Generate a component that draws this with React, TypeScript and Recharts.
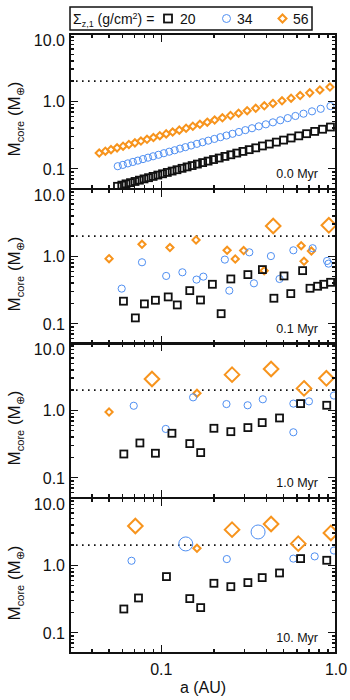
import React from 'react';
import { ScatterChart, Scatter, XAxis, YAxis, ReferenceLine } from 'recharts';

type Pt = [number, number];

// axis ticks and labels
const xTicks = [0.04, 0.05, 0.06, 0.07, 0.08, 0.09, 0.1, 0.2, 0.3, 0.4, 0.5, 0.6, 0.7, 0.8, 0.9, 1.0];
const yTicks = [0.05, 0.06, 0.07, 0.08, 0.09, 0.1, 0.2, 0.3, 0.4, 0.5, 0.6, 0.7, 0.8, 0.9, 1, 2, 3, 4, 5, 6, 7, 8, 9, 10];
const xDomain: [number, number] = [0.03, 1];
const yDomain: [number, number] = [0.05, 10];
const panelLabels = ['0.0 Myr', '0.1 Myr', '1.0 Myr', '10. Myr'];
const legendValues = ['20', '34', '56'];
const massLimit = 2.0;

// 0.0 Myr : [a (AU), Mcore (Mearth)]
const sq0: Pt[] = [
  [0.0561, 0.0548], [0.0594, 0.0571], [0.0628, 0.0596], [0.0666, 0.0621], [0.0707, 0.0647], [0.0749, 0.0676],
  [0.0796, 0.0706], [0.0845, 0.0736], [0.0897, 0.0769], [0.0955, 0.0805], [0.1016, 0.0841], [0.1082, 0.0881],
  [0.1153, 0.0923], [0.1229, 0.0966], [0.1314, 0.1014], [0.1404, 0.1064], [0.1501, 0.1114], [0.1609, 0.1172],
  [0.1724, 0.1233], [0.1852, 0.1297], [0.199, 0.1368], [0.2144, 0.1442], [0.2313, 0.1524], [0.2499, 0.1611],
  [0.2703, 0.1706], [0.2932, 0.1807], [0.3184, 0.1919], [0.3471, 0.2042], [0.379, 0.2178], [0.4149, 0.2323],
  [0.4554, 0.2483], [0.5012, 0.2661], [0.5532, 0.2858], [0.612, 0.3076], [0.6788, 0.3311], [0.7551, 0.3581],
  [0.8378, 0.3855], [0.9294, 0.4159],
];
const ci0: Pt[] = [
  [0.0563, 0.109], [0.0602, 0.114], [0.0643, 0.12], [0.0687, 0.126], [0.0734, 0.132], [0.0785, 0.139],
  [0.0839, 0.146], [0.0897, 0.153], [0.0963, 0.161], [0.1034, 0.17], [0.111, 0.179], [0.1192, 0.188],
  [0.1279, 0.199], [0.1373, 0.209], [0.1481, 0.221], [0.1598, 0.234], [0.1721, 0.247], [0.1857, 0.261],
  [0.2012, 0.277], [0.2179, 0.294], [0.236, 0.311], [0.2555, 0.33], [0.278, 0.351], [0.3026, 0.374],
  [0.3304, 0.399], [0.3613, 0.426], [0.3966, 0.456], [0.4353, 0.488], [0.4797, 0.524], [0.5294, 0.564],
  [0.5856, 0.607], [0.6514, 0.656], [0.7287, 0.711], [0.8172, 0.775], [0.9294, 0.851],
];
const di0: Pt[] = [
  [0.0441, 0.171], [0.0478, 0.182], [0.0515, 0.192], [0.0558, 0.204], [0.0604, 0.216], [0.0652, 0.229],
  [0.0706, 0.242], [0.0764, 0.257], [0.0828, 0.273], [0.0901, 0.29], [0.098, 0.309], [0.1066, 0.329],
  [0.1161, 0.35], [0.1267, 0.374], [0.1386, 0.399], [0.1515, 0.427], [0.1663, 0.457], [0.1832, 0.491],
  [0.202, 0.528], [0.2237, 0.569], [0.2489, 0.617], [0.2769, 0.667], [0.31, 0.726], [0.3471, 0.789],
  [0.3887, 0.858], [0.4353, 0.933], [0.4908, 1.019], [0.5532, 1.114], [0.6234, 1.218], [0.7074, 1.337],
  [0.8083, 1.476], [0.9232, 1.629],
];

// 0.1 Myr
const sq1: Pt[] = [
  [0.0607, 0.216], [0.071, 0.122], [0.08, 0.197], [0.0925, 0.223], [0.1095, 0.25], [0.1234, 0.19],
  [0.1455, 0.31], [0.1676, 0.225], [0.196, 0.385], [0.22, 0.141], [0.25, 0.462], [0.313, 0.536],
  [0.379, 0.636], [0.441, 0.239], [0.504, 0.512], [0.551, 0.28], [0.644, 0.614], [0.71, 0.336],
  [0.785, 0.36], [0.851, 0.385], [0.931, 0.412],
];
const ci1: Pt[] = [
  [0.0593, 0.332], [0.0775, 0.817], [0.1066, 0.512], [0.132, 0.58], [0.159, 0.452], [0.174, 0.5],
  [0.231, 0.895], [0.245, 0.31], [0.319, 1.148], [0.339, 0.398], [0.424, 1.01], [0.475, 0.462],
  [0.57, 1.23], [0.735, 1.32], [0.889, 0.855], [0.906, 0.78],
];
const di1: Pt[] = [
  [0.0502, 0.925], [0.0775, 1.51], [0.112, 1.35], [0.158, 1.75], [0.238, 1.23], [0.265, 0.914],
  [0.296, 1.22], [0.388, 0.614], [0.437, 2.82], [0.632, 1.44], [0.656, 0.845], [0.723, 1.2], [0.91, 2.89],
];

// 1.0 Myr
const sq2: Pt[] = [
  [0.061, 0.225], [0.0754, 0.328], [0.0925, 0.231], [0.115, 0.457], [0.1455, 0.321], [0.168, 0.236],
  [0.2, 0.542], [0.25, 0.483], [0.313, 0.555], [0.378, 0.658], [0.475, 0.771], [0.627, 1.26], [0.885, 1.19],
];
const ci2: Pt[] = [
  [0.0695, 1.17], [0.106, 0.53], [0.152, 1.56], [0.236, 1.24], [0.312, 1.19], [0.381, 1.46],
  [0.57, 1.26], [0.57, 0.473], [0.7, 1.36], [0.973, 1.66],
];
const di2: Pt[] = [
  [0.0502, 0.946], [0.0884, 2.92], [0.16, 1.79], [0.254, 3.39], [0.425, 4.11], [0.656, 2.12], [0.881, 2.99],
];

// 10 Myr
const sq3: Pt[] = [
  [0.061, 0.225], [0.074, 0.328], [0.107, 0.681], [0.1455, 0.321], [0.168, 0.236], [0.2, 0.542],
  [0.25, 0.483], [0.313, 0.555], [0.378, 0.658], [0.475, 0.771], [0.627, 1.26], [0.885, 1.19],
];
const ci3: Pt[] = [
  [0.0675, 1.17], [0.138, 2.08], [0.237, 1.24], [0.358, 3.13], [0.57, 1.26], [0.755, 1.36], [0.973, 1.66],
];
const di3: Pt[] = [
  [0.071, 3.84], [0.16, 1.79], [0.254, 3.39], [0.425, 4.11], [0.608, 2.1], [0.935, 3.03],
];

const panels = [
  { sq: sq0, ci: ci0, di: di0 },
  { sq: sq1, ci: ci1, di: di1 },
  { sq: sq2, ci: ci2, di: di2 },
  { sq: sq3, ci: ci3, di: di3 },
];

const FONT = '"Liberation Sans", Arial, Helvetica, sans-serif';
const ORANGE = '#f7941d';
const BLUE = '#4f8ff2';
const INK = '#111111';

const PLOT_L = 70;
const PLOT_W = 266;
const PLOT_H = 155;
const M_TOP = 10;
const AX_H = 50;
const TM = 10;
const PANEL_TOP = [34, 189, 343, 498];

const isMajor = (v: number) => Math.abs(Math.log10(v) - Math.round(Math.log10(v))) < 1e-6;
const toObj = (pts: Pt[]) => pts.map(([a, m]) => ({ a, m }));

// log position inside the frame, for the inward tick marks of the box
const fracX = (v: number) => (Math.log10(v) - Math.log10(xDomain[0])) / (Math.log10(xDomain[1]) - Math.log10(xDomain[0]));
const fracY = (v: number) => (Math.log10(v) - Math.log10(yDomain[0])) / (Math.log10(yDomain[1]) - Math.log10(yDomain[0]));

const XLabel = (props: any) => {
  const { x, y, payload, showLabel } = props;
  const v = payload.value;
  if (!showLabel || !isMajor(v)) return <g />;
  return (
    <text x={x} y={y - TM + 22} textAnchor="middle" fontSize={16} fontFamily={FONT} fill={INK}>
      {v >= 1 ? '1.0' : '0.1'}
    </text>
  );
};

const YLabel = (props: any) => {
  const { x, y, payload } = props;
  const v = payload.value;
  if (!isMajor(v)) return <g />;
  return (
    <text x={x + TM - 5} y={y + (v >= 10 ? 12 : 6)} textAnchor="end" fontSize={16} fontFamily={FONT} fill={INK}>
      {v >= 10 ? '10.0' : v >= 1 ? '1.0' : '0.1'}
    </text>
  );
};

const SquareShape = (props: any) => {
  const { cx, cy } = props;
  const s = 3.5;
  return <rect x={cx - s} y={cy - s} width={2 * s} height={2 * s} fill="none" stroke={INK} strokeWidth={1.8} />;
};

const CircleShape = (props: any) => {
  const { cx, cy, payload } = props;
  const r = payload && payload.m > massLimit ? 7 : 3.6;
  return <circle cx={cx} cy={cy} r={r} fill="none" stroke={BLUE} strokeWidth={1} />;
};

const DiamondShape = (props: any) => {
  const { cx, cy, payload } = props;
  const h = payload && payload.m > massLimit ? 7.3 : 3.6;
  const d = `M${cx},${cy - h} L${cx + h},${cy} L${cx},${cy + h} L${cx - h},${cy} Z`;
  return <path d={d} fill="none" stroke={ORANGE} strokeWidth={2} />;
};

const Panel = ({ index }: { index: number }) => {
  const p = panels[index];
  const last = index === panels.length - 1;
  return (
    <div style={{ position: 'absolute', left: 0, top: PANEL_TOP[index] - M_TOP, zIndex: 1 }}>
      <ScatterChart
        id={`panel-${index}`}
        width={350}
        height={M_TOP + PLOT_H + AX_H}
        margin={{ top: M_TOP, right: 350 - PLOT_L - PLOT_W, bottom: 0, left: 0 }}
      >
        <XAxis
          type="number"
          scale="log"
          dataKey="a"
          domain={xDomain}
          allowDataOverflow
          ticks={xTicks}
          interval={0}
          tickSize={0}
          tickMargin={TM}
          tickLine={false}
          axisLine={false}
          height={AX_H}
          tick={(tp: any) => <XLabel {...tp} showLabel={last} />}
        />
        <YAxis
          type="number"
          scale="log"
          dataKey="m"
          domain={yDomain}
          allowDataOverflow
          ticks={yTicks}
          interval={0}
          tickSize={0}
          tickMargin={TM}
          tickLine={false}
          axisLine={false}
          width={PLOT_L}
          tick={(tp: any) => <YLabel {...tp} />}
        />
        <ReferenceLine y={massLimit} stroke={INK} strokeWidth={1.6} strokeDasharray="1.6 4.4" />
        <Scatter data={toObj(p.di)} shape={DiamondShape} isAnimationActive={false} />
        <Scatter data={toObj(p.ci)} shape={CircleShape} isAnimationActive={false} />
        <Scatter data={toObj(p.sq)} shape={SquareShape} isAnimationActive={false} />
      </ScatterChart>
    </div>
  );
};

// box and inward tick marks, as plain positioned blocks on top of the charts
const BoxFrame = ({ top }: { top: number }) => {
  const bottom = top + PLOT_H;
  const right = PLOT_L + PLOT_W;
  const bar = (key: string, left: number, t: number, w: number, h: number) => (
    <div key={key} style={{ position: 'absolute', left, top: t, width: w, height: h, background: INK }} />
  );
  const marks: React.ReactNode[] = [];
  xTicks.forEach((v, i) => {
    const len = isMajor(v) ? 8 : 4;
    const x = PLOT_L + PLOT_W * fracX(v);
    marks.push(bar(`xb${i}`, x - 0.75, bottom - len, 1.5, len));
    marks.push(bar(`xt${i}`, x - 0.75, top, 1.5, len));
  });
  yTicks.forEach((v, i) => {
    const len = isMajor(v) ? 8 : 4;
    const y = bottom - PLOT_H * fracY(v);
    marks.push(bar(`yl${i}`, PLOT_L, y - 0.75, len, 1.5));
    marks.push(bar(`yr${i}`, right - len, y - 0.75, len, 1.5));
  });
  return (
    <>
      <div
        style={{
          position: 'absolute',
          left: PLOT_L - 1,
          top: top - 1,
          width: PLOT_W + 2,
          height: PLOT_H + 2,
          border: `2px solid ${INK}`,
          boxSizing: 'border-box',
        }}
      />
      {marks}
    </>
  );
};

const Overlay = () => (
  <svg width={350} height={700} style={{ position: 'absolute', left: 0, top: 0, pointerEvents: 'none', zIndex: 3 }}>
    <g fontFamily={FONT} fill={INK}>
      <rect x={70} y={7} width={242} height={23} fill="none" stroke={INK} strokeWidth={1.5} />
      <text x={73} y={23.5} fontSize={14}>
        Σ<tspan fontSize={9} dy={3}>z,1</tspan>
        <tspan dy={-3}> (g/cm</tspan>
        <tspan fontSize={9} dy={-5}>2</tspan>
        <tspan dy={5}>) =</tspan>
      </text>
      <rect x={164} y={14.5} width={8} height={8} fill="none" stroke={INK} strokeWidth={1.8} />
      <text x={180} y={23.5} fontSize={14}>{legendValues[0]}</text>
      <circle cx={226.5} cy={18.5} r={4} fill="none" stroke={BLUE} strokeWidth={1} />
      <text x={237} y={23.5} fontSize={14}>{legendValues[1]}</text>
      <path d="M282.5,14.5 L286.5,18.5 L282.5,22.5 L278.5,18.5 Z" fill="none" stroke={ORANGE} strokeWidth={2} />
      <text x={293} y={23.5} fontSize={14}>{legendValues[2]}</text>
      {PANEL_TOP.map((t, i) => (
        <g key={i}>
          <text x={20} y={t + 85} fontSize={17} textAnchor="middle" transform={`rotate(-90 20 ${t + 85})`}>
            M<tspan fontSize={11} dy={4}>core</tspan>
            <tspan dy={-4}> (M</tspan>
            <tspan fontSize={11} dy={4}>⊕</tspan>
            <tspan dy={-4}>)</tspan>
          </text>
          <text x={318} y={t + PLOT_H - 11} fontSize={12.5} textAnchor="end">
            {panelLabels[i]}
          </text>
        </g>
      ))}
      <text x={PLOT_L + PLOT_W / 2} y={693} fontSize={16} textAnchor="middle">a (AU)</text>
    </g>
  </svg>
);

export default function App() {
  return (
    <div style={{ position: 'absolute', left: 0, top: 0, width: 350, height: 700, background: '#fff' }}>
      {panels.map((_, i) => (
        <Panel key={i} index={i} />
      ))}
      <div style={{ position: 'absolute', left: 0, top: 0, width: 350, height: 700, zIndex: 2, pointerEvents: 'none' }}>
        {PANEL_TOP.map((t, i) => (
          <BoxFrame key={i} top={t} />
        ))}
      </div>
      <Overlay />
    </div>
  );
}
